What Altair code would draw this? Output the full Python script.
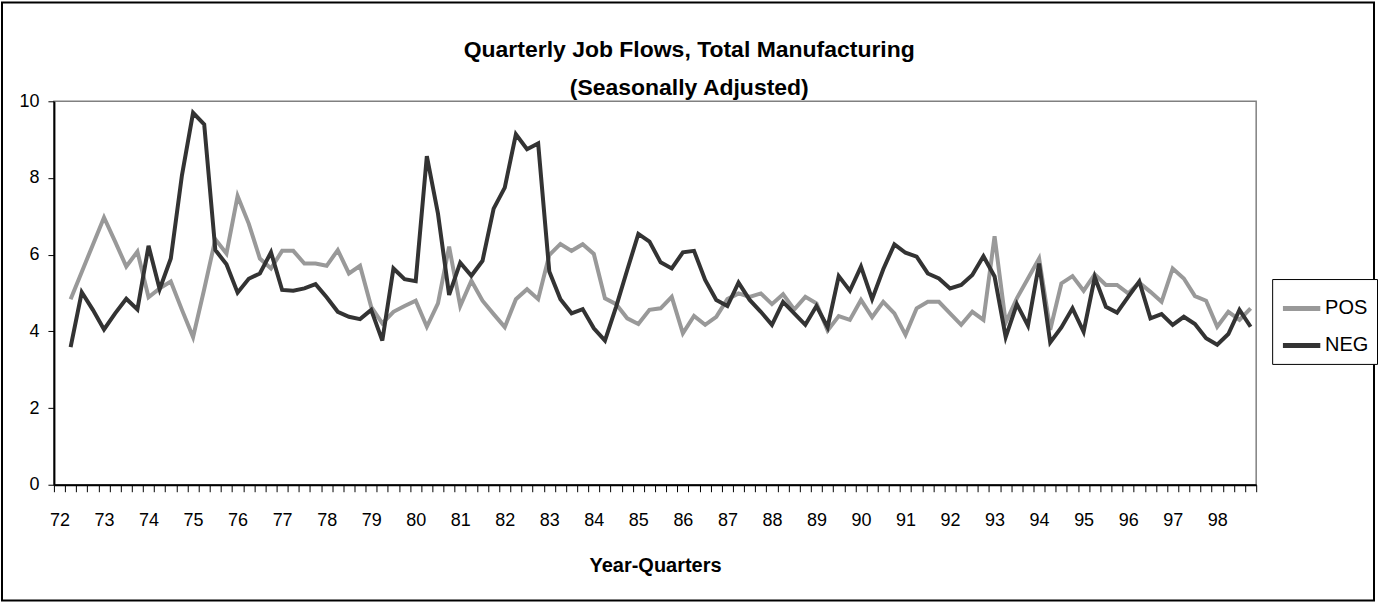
import json
import altair as alt
import pandas as pd

FONT = "Liberation Sans"

title_lines = ["Quarterly Job Flows, Total Manufacturing", "(Seasonally Adjusted)"]
x_title = "Year-Quarters"
years = ["72", "73", "74", "75", "76", "77", "78", "79", "80", "81", "82", "83", "84",
         "85", "86", "87", "88", "89", "90", "91", "92", "93", "94", "95", "96", "97", "98"]
series_names = ["POS", "NEG"]
series_colors = ["#999999", "#333333"]
first_quarter = 2  # data start in the 2nd quarter of 1972

pos = [4.84, 5.55, 6.26, 6.97, 6.34, 5.69, 6.08, 4.89, 5.12, 5.30,
       4.56, 3.85, 5.10, 6.40, 6.03, 7.53, 6.81, 5.90, 5.64, 6.10,
       6.10, 5.77, 5.77, 5.71, 6.12, 5.51, 5.71, 4.64, 4.21, 4.51,
       4.66, 4.80, 4.12, 4.73, 6.21, 4.66, 5.32, 4.80, 4.45, 4.11,
       4.84, 5.10, 4.84, 5.99, 6.28, 6.10, 6.27, 6.02, 4.86, 4.71,
       4.34, 4.19, 4.56, 4.60, 4.90, 3.95, 4.40, 4.17, 4.38, 4.84,
       4.99, 4.90, 4.99, 4.71, 4.97, 4.57, 4.90, 4.73, 4.02, 4.40,
       4.30, 4.82, 4.37, 4.77, 4.47, 3.91, 4.60, 4.77, 4.77, 4.47,
       4.17, 4.51, 4.30, 6.48, 4.23, 4.86, 5.38, 5.90, 4.04, 5.25,
       5.44, 5.06, 5.49, 5.21, 5.21, 4.99, 5.27, 5.03, 4.77, 5.64,
       5.38, 4.92, 4.80, 4.12, 4.51, 4.30, 4.60]

neg = [3.59, 5.02, 4.56, 4.05, 4.47, 4.85, 4.57, 6.23, 5.10, 5.90,
       8.07, 9.70, 9.40, 6.12, 5.75, 5.01, 5.37, 5.51, 6.06, 5.08,
       5.06, 5.12, 5.23, 4.89, 4.51, 4.38, 4.32, 4.56, 3.76, 5.64,
       5.36, 5.31, 8.57, 7.07, 4.95, 5.79, 5.45, 5.84, 7.20, 7.75,
       9.14, 8.75, 8.90, 5.56, 4.84, 4.47, 4.58, 4.08, 3.76, 4.64,
       5.60, 6.54, 6.34, 5.80, 5.64, 6.06, 6.10, 5.34, 4.82, 4.66,
       5.27, 4.82, 4.51, 4.17, 4.77, 4.47, 4.17, 4.66, 4.11, 5.44,
       5.06, 5.69, 4.84, 5.62, 6.27, 6.05, 5.95, 5.51, 5.38, 5.12,
       5.21, 5.47, 5.96, 5.43, 3.85, 4.71, 4.15, 5.77, 3.71, 4.10,
       4.60, 3.99, 5.41, 4.64, 4.49, 4.90, 5.30, 4.34, 4.45, 4.17,
       4.38, 4.19, 3.82, 3.65, 3.93, 4.56, 4.12]

n_cat = 4 * len(years)
W, H = 1204, 384

rows = []
for name, vals in zip(series_names, [pos, neg]):
    for i, v in enumerate(vals):
        # centre of the category band
        rows.append({"xc": first_quarter - 1 + i + 0.5, "value": v, "series": name})
df = pd.DataFrame(rows)

label_expr = (f"(datum.value % 4 == 0 && datum.value < {n_cat}) ? "
              f"{json.dumps(years)}[datum.value / 4] : ''")

x_enc = alt.X(
    "xc:Q",
    scale=alt.Scale(domain=[0, n_cat], nice=False, zero=False),
    axis=alt.Axis(
        values=list(range(n_cat + 1)), labelExpr=label_expr, labelOffset=W / n_cat / 2,
        labelOverlap=False, labelFlush=False, labelBound=False, tickSize=7,
        labelPadding=20, title=x_title, titleFontSize=20, titleFont=FONT,
        titleFontWeight="bold", titlePadding=26, grid=False, domainWidth=2,
    ),
)
y_enc = alt.Y(
    "value:Q",
    scale=alt.Scale(domain=[0, 10], nice=False),
    axis=alt.Axis(values=[0, 2, 4, 6, 8, 10], tickSize=6, labelPadding=9,
                  title=None, grid=False, domainWidth=2),
)
color_enc = alt.Color(
    "series:N",
    scale=alt.Scale(domain=series_names, range=series_colors),
    legend=alt.Legend(orient="none", legendX=1220, legendY=178, title=None,
                      symbolType="stroke", symbolSize=1400, symbolStrokeWidth=5,
                      labelFontSize=20, labelFont=FONT, labelColor="black",
                      strokeColor="black", fillColor="white", padding=8,
                      rowPadding=5, labelOffset=2),
)

base = alt.Chart(df)
lines = [
    base.transform_filter(alt.datum.series == s).mark_line(strokeWidth=4).encode(
        x=x_enc, y=y_enc, color=color_enc)
    for s in series_names
]

border = alt.Chart(pd.DataFrame({"a": [0]})).mark_rect(
    fillOpacity=0, stroke="black", strokeWidth=2, clip=False
).encode(x=alt.value(-52), x2=alt.value(1322), y=alt.value(-99), y2=alt.value(500))

chart = alt.layer(*lines, border).properties(
    width=W, height=H, padding=1,
    title=alt.TitleParams(text=title_lines, font=FONT, fontSize=23, fontWeight="bold",
                          anchor="middle", frame="bounds", baseline="bottom",
                          offset=-122, lineHeight=38, color="black"),
).configure_view(stroke="#808080", strokeWidth=1.5).configure_axis(
    domainColor="black", tickColor="black", labelColor="black", titleColor="black",
    labelFont=FONT, labelFontSize=18,
)

chart.save("out.html", embed_options={"renderer": "svg", "actions": False})
